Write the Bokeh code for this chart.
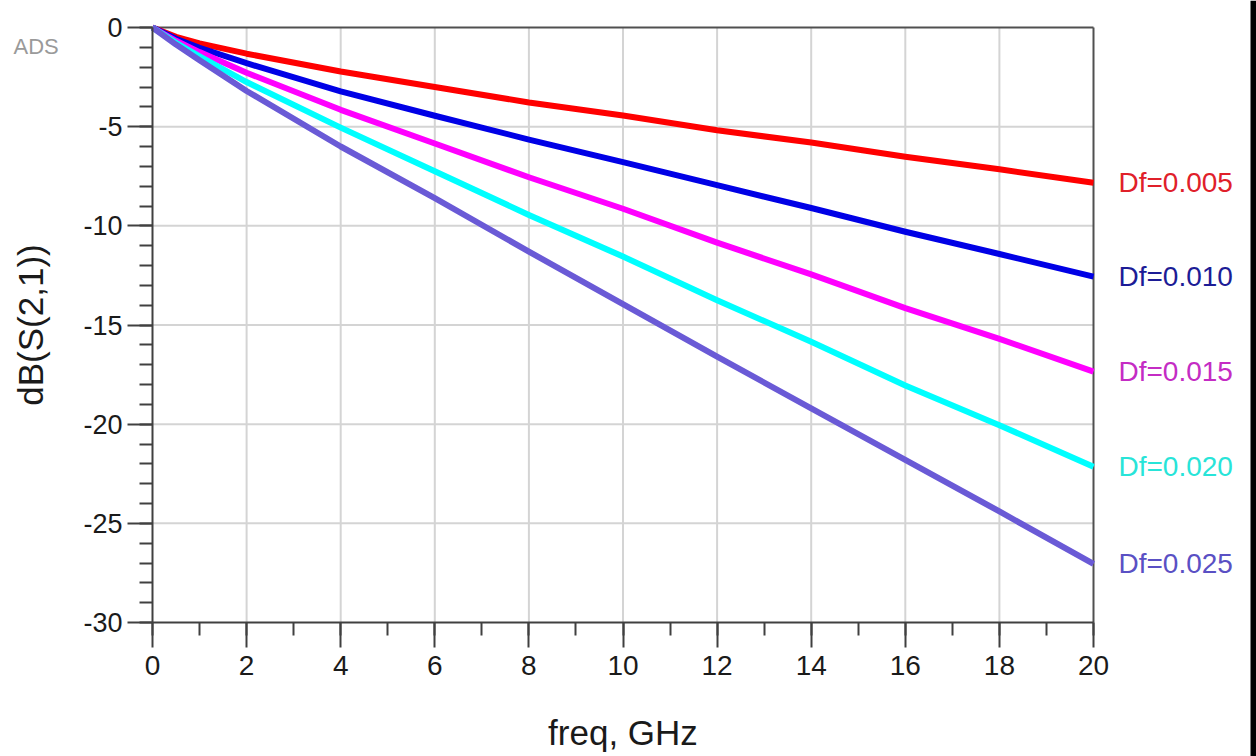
from bokeh.plotting import figure
from bokeh.models import (ColumnDataSource, SingleIntervalTicker, Range1d,
                          PrintfTickFormatter)
from bokeh.core.properties import value
from bokeh.embed import file_html
from bokeh.resources import INLINE

# Insertion loss |S21| in dB versus frequency for five dielectric loss tangents
freq_ghz = [0, 0.5, 1, 2, 4, 6, 8, 10, 12, 14, 16, 18, 20]
s21_df005 = [0, -0.47, -0.80, -1.32, -2.22, -3.00, -3.78, -4.44, -5.18, -5.80, -6.52, -7.15, -7.83]
s21_df010 = [0, -0.57, -1.02, -1.80, -3.22, -4.45, -5.65, -6.79, -7.95, -9.10, -10.30, -11.42, -12.56]
s21_df015 = [0, -0.67, -1.24, -2.28, -4.15, -5.85, -7.55, -9.14, -10.85, -12.45, -14.15, -15.70, -17.35]
s21_df020 = [0, -0.77, -1.45, -2.75, -5.05, -7.25, -9.45, -11.55, -13.75, -15.85, -18.05, -20.05, -22.15]
s21_df025 = [0, -0.86, -1.65, -3.20, -6.00, -8.60, -11.30, -13.95, -16.60, -19.20, -21.80, -24.40, -27.05]

series_names = ["Df=0.005", "Df=0.010", "Df=0.015", "Df=0.020", "Df=0.025"]
series_values = [s21_df005, s21_df010, s21_df015, s21_df020, s21_df025]
line_colors = ["#ff0000", "#0000e6", "#ff00ff", "#00ffff", "#6a5ad6"]
text_colors = ["#e0202a", "#1c1c96", "#c42cc4", "#28e4d8", "#5a50c4"]

x_ticks_major = [2, 4, 6, 8, 10, 12, 14, 16, 18]
y_ticks_major = [-5, -10, -15, -20, -25]
X_MIN, X_MAX = 0, 20
Y_MIN, Y_MAX = -30, 0

FONT = "Liberation Sans"

# canvas geometry (pixels): plot box spans 152..1093 horizontally, 27..622 vertically
W, H = 1256, 756
BOX_L, BOX_R, BOX_T, BOX_B = 152, 1093, 27, 622
sx = (BOX_R - BOX_L) / (X_MAX - X_MIN)
sy = (BOX_B - BOX_T) / (Y_MAX - Y_MIN)
x_lo = X_MIN - BOX_L / sx
x_hi = X_MAX + (W - BOX_R) / sx
y_hi = Y_MAX + BOX_T / sy
y_lo = Y_MIN - (H - BOX_B) / sy

p = figure(width=W, height=H, output_backend="svg", toolbar_location=None,
           x_range=Range1d(x_lo, x_hi), y_range=Range1d(y_lo, y_hi),
           min_border=0)
p.background_fill_color = "white"
p.border_fill_color = "white"
p.outline_line_color = None
p.xgrid.visible = False
p.ygrid.visible = False

# grid
grid_col = "#d4d4d4"
p.segment(x0=x_ticks_major, y0=[Y_MIN] * len(x_ticks_major),
          x1=x_ticks_major, y1=[Y_MAX] * len(x_ticks_major),
          line_color=grid_col, line_width=2)
p.segment(x0=[X_MIN] * len(y_ticks_major), y0=y_ticks_major,
          x1=[X_MAX] * len(y_ticks_major), y1=y_ticks_major,
          line_color=grid_col, line_width=2)
# top and right edges of the plot box
p.segment(x0=[X_MIN, X_MAX], y0=[Y_MAX, Y_MIN], x1=[X_MAX, X_MAX], y1=[Y_MAX, Y_MAX],
          line_color="#505050", line_width=2)

for vals, col in zip(series_values, line_colors):
    p.line(freq_ghz, vals, line_color=col, line_width=6, line_join="round")

# axes pinned to the plot box
p.xaxis.fixed_location = Y_MIN
p.yaxis.fixed_location = X_MIN
p.xaxis.bounds = (X_MIN, X_MAX)
p.yaxis.bounds = (Y_MIN, Y_MAX)
p.xaxis.ticker = SingleIntervalTicker(interval=2, num_minor_ticks=2)
p.yaxis.ticker = SingleIntervalTicker(interval=5, num_minor_ticks=5)
p.yaxis.formatter = PrintfTickFormatter(format="%d")
for ax in (p.xaxis, p.yaxis):
    ax.axis_line_color = "#404040"
    ax.axis_line_width = 2
    ax.major_tick_line_color = "#404040"
    ax.major_tick_line_width = 2
    ax.minor_tick_line_color = "#404040"
    ax.minor_tick_line_width = 2
    ax.major_tick_out = 25
    ax.major_tick_in = 0
    ax.minor_tick_out = 13
    ax.minor_tick_in = 0
    ax.major_label_text_font = FONT
    ax.major_label_text_color = "#1a1a1a"
    ax.axis_label_text_font = FONT
    ax.axis_label_text_font_style = "normal"
    ax.axis_label_text_color = "#1a1a1a"
    ax.axis_label_text_font_size = "35px"

p.xaxis.major_label_text_font_size = "28px"
p.yaxis.major_label_text_font_size = "27px"
p.xaxis.major_label_standoff = 8
p.yaxis.major_label_standoff = 5
p.xaxis.axis_label = "freq, GHz"
p.yaxis.axis_label = "dB(S(2,1))"
p.xaxis.axis_label_standoff = 35
p.yaxis.axis_label_standoff = 30

# curve names at the right-hand ends of the traces
end_src = ColumnDataSource(dict(
    x=[freq_ghz[-1]] * len(series_values),
    y=[v[-1] for v in series_values],
    name=series_names,
    color=text_colors,
))
p.text(x="x", y="y", text="name", source=end_src, x_offset=25,
       text_color="color", text_font=value(FONT), text_font_size="28px",
       text_baseline="middle", text_align="left")

# simulator tag in the upper-left corner
p.text(x=[x_lo + 13 / sx], y=[Y_MAX - 19 / sy], text=["ADS"],
       text_color="#9a9a9a", text_font=value(FONT), text_font_size="22px",
       text_baseline="middle", text_align="left")

# dark strip along the right edge
p.quad(left=[x_hi - 6 / sx], right=[x_hi], bottom=[y_lo], top=[y_hi],
       fill_color="black", line_color=None)

open("out.html", "w").write(file_html(p, INLINE))
